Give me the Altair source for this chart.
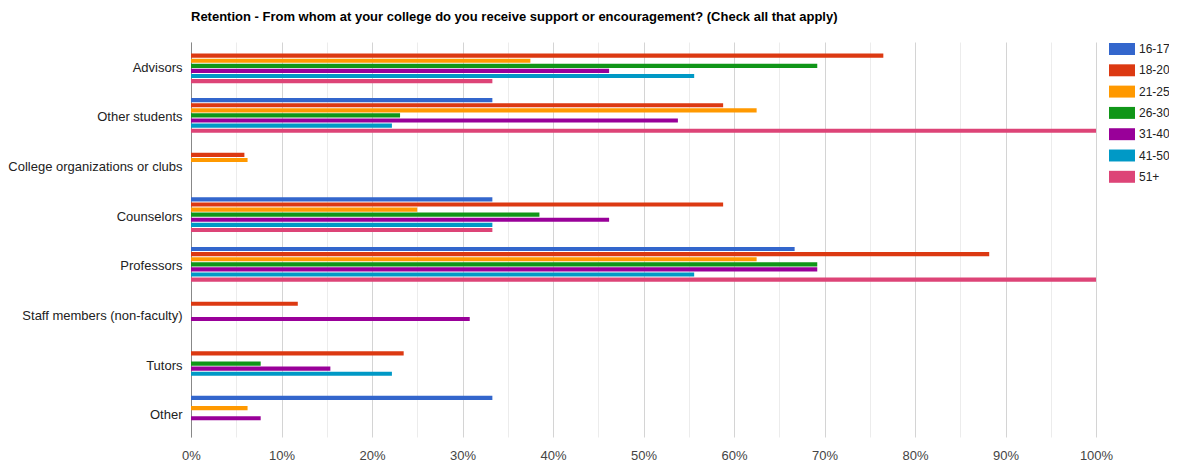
import altair as alt
import pandas as pd

categories = [
    "Advisors",
    "Other students",
    "College organizations or clubs",
    "Counselors",
    "Professors",
    "Staff members (non-faculty)",
    "Tutors",
    "Other",
]
age_groups = ["16-17", "18-20", "21-25", "26-30", "31-40", "41-50", "51+"]
colors = ["#3366cc", "#dc3912", "#ff9900", "#109618", "#990099", "#0099c6", "#dd4477"]

# percent values per age group, in the order of `categories`
v_16_17 = [0, 33.3, 0, 33.3, 66.7, 0, 0, 33.3]
v_18_20 = [76.5, 58.8, 5.9, 58.8, 88.2, 11.8, 23.5, 0]
v_21_25 = [37.5, 62.5, 6.25, 25.0, 62.5, 0, 0, 6.25]
v_26_30 = [69.2, 23.1, 0, 38.5, 69.2, 0, 7.7, 0]
v_31_40 = [46.2, 53.8, 0, 46.2, 69.2, 30.8, 15.4, 7.7]
v_41_50 = [55.6, 22.2, 0, 33.3, 55.6, 0, 22.2, 0]
v_51p = [33.3, 100.0, 0, 33.3, 100.0, 0, 0, 0]

series = [v_16_17, v_18_20, v_21_25, v_26_30, v_31_40, v_41_50, v_51p]

rows = []
for g, vals in zip(age_groups, series):
    for c, v in zip(categories, vals):
        if v > 0:
            rows.append({"category": c, "age": g, "value": v})
df = pd.DataFrame(rows)

title_text = "Retention - From whom at your college do you receive support or encouragement? (Check all that apply)"
FONT = "Liberation Sans, Arial, sans-serif"

x_ticks = list(range(0, 101, 5))

chart = (
    alt.Chart(df)
    .mark_bar()
    .encode(
        y=alt.Y(
            "category:N",
            sort=categories,
            scale=alt.Scale(paddingInner=0.3, paddingOuter=0.13),
            axis=alt.Axis(
                title=None,
                ticks=False,
                labelPadding=9,
                labelOffset=2,
                labelFontSize=13,
                labelColor="#222222",
                labelFont=FONT,
                domainColor="#888888",
                domainWidth=1,
                grid=False,
                labelLimit=300,
            ),
        ),
        yOffset=alt.YOffset(
            "age:N",
            sort=age_groups,
            scale=alt.Scale(domain=age_groups, paddingInner=0.18, paddingOuter=0),
        ),
        x=alt.X(
            "value:Q",
            scale=alt.Scale(domain=[0, 100], nice=False),
            axis=alt.Axis(
                title=None,
                values=x_ticks,
                labelExpr="datum.value % 10 == 0 ? datum.value + '%' : ''",
                ticks=False,
                domain=False,
                labelFlush=False,
                labelPadding=12,
                labelFontSize=13,
                labelColor="#444444",
                labelFont=FONT,
                gridColor={
                    "condition": {"test": "datum.value % 10 == 0", "value": "#d4d4d4"},
                    "value": "#ececec",
                },
                gridWidth=1,
            ),
        ),
        color=alt.Color(
            "age:N",
            sort=age_groups,
            scale=alt.Scale(domain=age_groups, range=colors),
            legend=alt.Legend(
                title=None,
                orient="none",
                legendX=918,
                legendY=-6,
                symbolType="M-1,-0.46L1,-0.46L1,0.46L-1,0.46Z",
                symbolSize=676,
                symbolStrokeWidth=0,
                symbolOpacity=1,
                labelFontSize=12,
                labelFont=FONT,
                labelColor="#222222",
                labelOffset=4,
                rowPadding=2.3,
                padding=0,
            ),
        ),
    )
    .properties(
        width=905,
        height=395,
        title=alt.TitleParams(
            text=title_text,
            anchor="start",
            frame="group",
            fontSize=13,
            fontWeight="bold",
            font=FONT,
            color="#000000",
            baseline="alphabetic",
            offset=2,
        ),
        autosize=alt.AutoSizeParams(type="none"),
        padding={"left": 183, "top": 34, "right": 73, "bottom": 26},
    )
    .configure_view(stroke=None)
)

chart.save("out.html", embed_options={"renderer": "svg", "actions": False})
